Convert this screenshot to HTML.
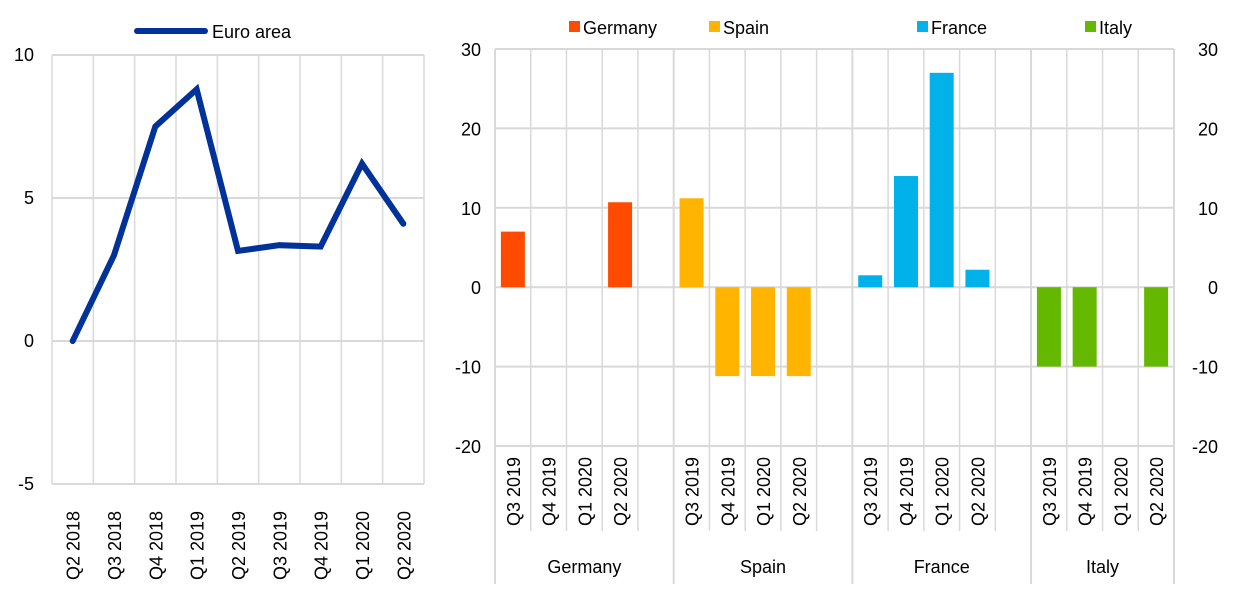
<!DOCTYPE html>
<html><head><meta charset="utf-8"><style>
body{margin:0;background:#fff;font-family:"Liberation Sans",Arial,sans-serif}
svg text{font-family:"Liberation Sans",Arial,sans-serif;fill:#000}
</style></head><body>
<svg id="c" width="1240" height="584" xmlns="http://www.w3.org/2000/svg"></svg>
<script>
const lineCats=["Q2 2018","Q3 2018","Q4 2018","Q1 2019","Q2 2019","Q3 2019","Q4 2019","Q1 2020","Q2 2020"];
const lineVals=[0,3.0,7.5,8.8,3.15,3.35,3.3,6.2,4.1];
const leftTicks=[10,5,0,-5];
const countries=["Germany","Spain","France","Italy"];
const quarters=["Q3 2019","Q4 2019","Q1 2020","Q2 2020"];
const germany=[7,null,null,10.7];
const spain=[11.2,-11.2,-11.2,-11.2];
const france=[1.5,14,27,2.2];
const italy=[-10,-10,null,-10];
const rightTicks=[30,20,10,0,-10,-20];
const colors=["#ff4b00","#ffb400","#00b1ea","#65b800"];

const svg=document.getElementById('c');
const NS="http://www.w3.org/2000/svg";
function mk(t,a,p){const e=document.createElementNS(NS,t);for(const k in a)e.setAttribute(k,a[k]);(p||svg).appendChild(e);return e;}
const grid="#d9d9d9";

// Left chart
const L={x0:52,x1:424,yTop:55,yBot:484,vMax:10,vMin:-5};
const ly=v=>L.yTop+(L.vMax-v)/(L.vMax-L.vMin)*(L.yBot-L.yTop);
const lw=(L.x1-L.x0)/lineCats.length;
const lx=i=>L.x0+lw*(i+0.5);
leftTicks.forEach(t=>{
 const g=mk('line',{x1:L.x0,x2:L.x1,y1:ly(t),y2:ly(t),stroke:grid,'stroke-width':2});
 
 const tx=mk('text',{x:34,y:ly(t)+6,'text-anchor':'end','font-size':18});tx.textContent=t;
 
});
for(let i=0;i<=lineCats.length;i++){
 const g=mk('line',{x1:L.x0+lw*i,x2:L.x0+lw*i,y1:L.yTop,y2:L.yBot,stroke:grid,'stroke-width':1.5});
 
}
lineCats.forEach((c,i)=>{
 const tx=mk('text',{transform:`translate(${lx(i)+7},580) rotate(-90)`,'font-size':18});tx.textContent=c;
 
});
const pl=mk('polyline',{points:lineVals.map((v,i)=>lx(i)+','+ly(v)).join(' '),fill:'none',stroke:'#003299','stroke-width':6,'stroke-linejoin':'miter','stroke-linecap':'round'});

const ll=mk('line',{x1:137,x2:205,y1:31,y2:31,stroke:'#003299','stroke-width':6,'stroke-linecap':'round'});

const lt=mk('text',{x:212,y:38,'font-size':18});lt.textContent="Euro area";


// Right chart
const R={x0:495,x1:1174,yTop:49,yBot:446,vMax:30,vMin:-20};
const nSlots=19, sw=(R.x1-R.x0)/nSlots;
const ry=v=>R.yTop+(R.vMax-v)/(R.vMax-R.vMin)*(R.yBot-R.yTop);
const series=[germany,spain,france,italy];
rightTicks.forEach(t=>{
 const g=mk('line',{x1:R.x0,x2:R.x1,y1:ry(t),y2:ry(t),stroke:grid,'stroke-width':2});
 
 const a=mk('text',{x:481,y:ry(t)+7,'text-anchor':'end','font-size':18});a.textContent=t;
 
 const b=mk('text',{x:1218,y:ry(t)+7,'text-anchor':'end','font-size':18});b.textContent=t;
 
});
for(let i=0;i<=nSlots;i++){
 const isGroup=(i%5===0)||i===nSlots;
 const g=mk('line',{x1:R.x0+sw*i,x2:R.x0+sw*i,y1:R.yTop,y2:isGroup?584:531,stroke:grid,'stroke-width':isGroup?2:1.5});
 
}
series.forEach((s,gi)=>{
 s.forEach((v,qi)=>{
  const slot=gi*5+qi, cx=R.x0+sw*(slot+0.5);
  const tx=mk('text',{transform:`translate(${cx+7},526) rotate(-90)`,'font-size':18});tx.textContent=quarters[qi];
  
  if(v===null)return;
  const y0=ry(0),y1=ry(v);
  const r=mk('rect',{x:cx-12,width:24,y:Math.min(y0,y1),height:Math.abs(y1-y0),fill:colors[gi]});
  
 });
 const gEnd=gi===3?nSlots:gi*5+5;
 const cx=R.x0+sw*(gi*5+gEnd)/2;
 const ct=mk('text',{x:cx,y:573,'text-anchor':'middle','font-size':18});ct.textContent=countries[gi];
 
});
const legX=[569,709,917,1085];
countries.forEach((c,i)=>{
 const r=mk('rect',{x:legX[i],y:21,width:11,height:11,fill:colors[i]});
 
 const t=mk('text',{x:legX[i]+14,y:34,'font-size':18});t.textContent=c;
 
});
</script>
</body></html>
